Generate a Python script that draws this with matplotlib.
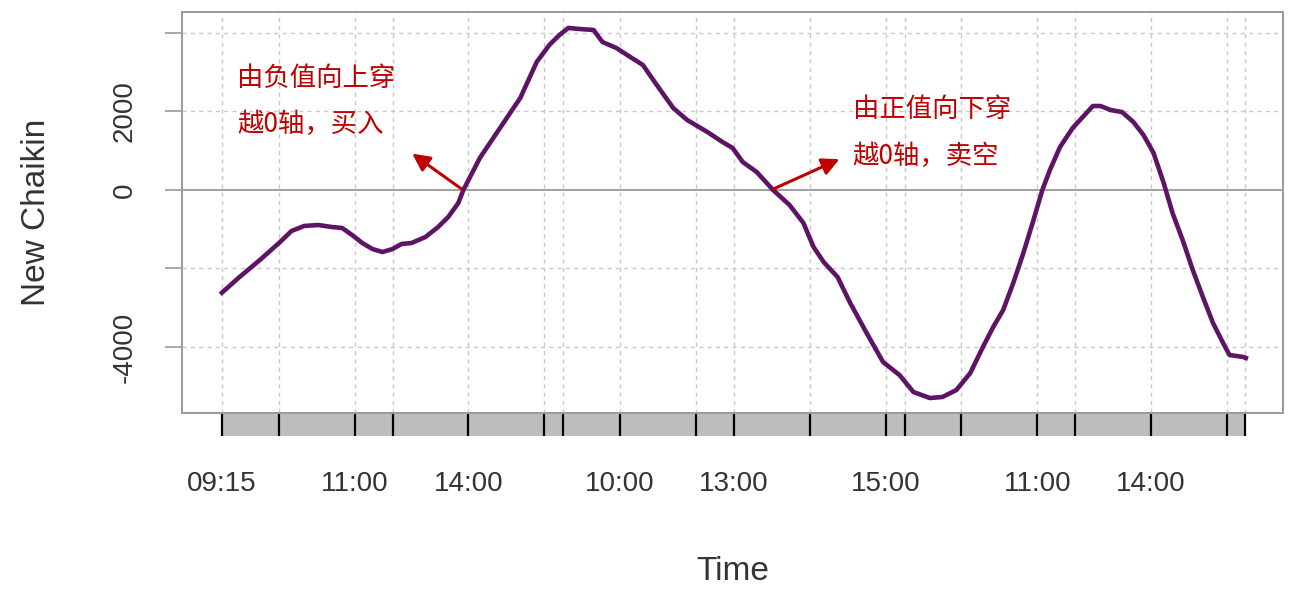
import numpy as np
import matplotlib
matplotlib.use("Agg")
import matplotlib.pyplot as plt

plt.rcParams['font.family'] = ['Liberation Sans', 'Noto Sans CJK SC', 'DejaVu Sans']

# minutos desde a primeira barra (3 pregoes de 270 min)
minutos = [0, 13, 30, 46, 55, 65, 76, 87, 95, 103, 111, 119, 127, 135, 142, 150, 161,
           171, 179, 187, 191, 204, 220, 236, 249, 259, 267, 274, 283, 294, 301, 312,
           323, 333, 344, 357, 368, 384, 396, 404, 412, 423, 436, 449, 460, 468, 476,
           487, 497, 510, 523, 536, 547, 560, 570, 581, 592, 602, 610, 618, 626, 634,
           642, 649, 655, 663, 673, 681, 689, 695, 703, 712, 721, 729, 737, 745, 752,
           760, 768, 776, 784, 792, 797, 808, 810]
chaikin = [-2617, -2242, -1784, -1325, -1045, -917, -892, -943, -968, -1147, -1350,
           -1503, -1580, -1503, -1376, -1350, -1198, -943, -688, -331, 0, 815, 1580,
           2344, 3261, 3695, 3949, 4128, 4102, 4077, 3771, 3618, 3389, 3185, 2675,
           2089, 1784, 1478, 1223, 1070, 713, 459, 0, -382, -841, -1452, -1835, -2217,
           -2879, -3644, -4383, -4714, -5147, -5300, -5274, -5096, -4663, -4000,
           -3500, -3058, -2370, -1605, -764, 0, 510, 1096, 1580, 1860, 2140, 2140,
           2038, 1987, 1733, 1401, 943, 178, -586, -1274, -2038, -2726, -3389, -3898,
           -4204, -4255, -4280]

# marcas do eixo x (indice em minutos) e rotulos
ticks_x = [0, 45, 105, 135, 195, 255, 270, 315, 375, 405, 465, 525, 540, 585, 645,
           675, 735, 795, 809]
ticks_rot = [0, 105, 195, 315, 405, 525, 645, 735]
rotulos_x = ["09:15", "11:00", "14:00", "10:00", "13:00", "15:00", "11:00", "14:00"]

ticks_y = [-4000, -2000, 0, 2000, 4000]
rotulos_y = ["-4000", "", "0", "2000", ""]

texto_compra = "由负值向上穿\n越0轴，买入"
texto_venda = "由正值向下穿\n越0轴，卖空"

fig = plt.figure(figsize=(12.99, 5.94), dpi=100)
ax = fig.add_axes([0.1401, 0.3047, 0.8476, 0.6751])
barra = fig.add_axes([0.1401, 0.266, 0.8476, 0.037], sharex=ax)

cinza = "#9a9a9a"
vermelho = "#c00000"

#grade pontilhada
for t in ticks_x:
    ax.axvline(t, color="#c8c8c8", ls=(0, (3, 3)), lw=1, zorder=0)
for v in ticks_y:
    if v != 0:
        ax.axhline(v, color="#c8c8c8", ls=(0, (3, 3)), lw=1, zorder=0)
ax.axhline(0, color="#a0a0a0", lw=1.4, zorder=1)

#linha principal
ax.plot(minutos, chaikin, color="#5e1464", lw=3.3, zorder=3)

ax.set_xlim(-31.6, 839.4)
ax.set_ylim(-5682, 4535)
ax.set_yticks(ticks_y)
ax.set_yticklabels(rotulos_y, rotation=90, va="center", fontsize=20, color="#333333")
ax.tick_params(axis="y", length=12, width=1.2, color=cinza, pad=20)
ax.tick_params(axis="x", bottom=False, labelbottom=False)
for s in ax.spines.values():
    s.set_color(cinza)
    s.set_linewidth(1.4)
ax.set_ylabel("New Chaikin", fontsize=24, color="#333333", labelpad=43)

#setas e textos
ax.annotate("", xy=(148.7, 968), xytext=(190.7, 0),
            arrowprops=dict(arrowstyle="-|>", color=vermelho, lw=2.2, mutation_scale=26))
ax.annotate("", xy=(490.5, 815), xytext=(434.5, 0),
            arrowprops=dict(arrowstyle="-|>", color=vermelho, lw=2.2, mutation_scale=26))
ax.text(12, 2255, texto_compra, color=vermelho, fontsize=19, linespacing=1.95,
        family=['Noto Sans CJK SC', 'DejaVu Sans'], va="center", ha="left")
ax.text(499, 1465, texto_venda, color=vermelho, fontsize=19, linespacing=1.95,
        family=['Noto Sans CJK SC', 'DejaVu Sans'], va="center", ha="left")

#barra cinza com as marcas
barra.axvspan(0, 810, color="#bdbdbd", lw=0)
barra.vlines(ticks_x, 0, 1, color="black", lw=1.6)
barra.set_ylim(0, 1)
barra.set_yticks([])
for s in barra.spines.values():
    s.set_visible(False)
barra.set_xticks(ticks_rot)
barra.set_xticklabels(rotulos_x, fontsize=20, color="#333333")
barra.tick_params(axis="x", length=0, pad=25)
barra.set_xlabel("Time", fontsize=24, color="#333333", labelpad=43)

fig.savefig("out.png", dpi=100)
